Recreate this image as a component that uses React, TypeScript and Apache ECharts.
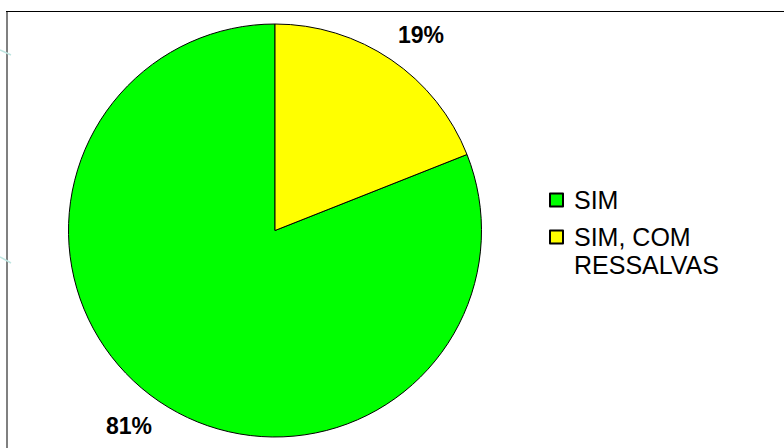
import React, { useEffect, useRef } from "react";
import * as echarts from "echarts";

const categories = ["SIM", "SIM, COM RESSALVAS"];
const values = [81, 19];
const colors = ["#00ff00", "#ffff00"];
const legendLabels = ["SIM", "SIM, COM\nRESSALVAS"];

export default function App() {
  const ref = useRef<HTMLDivElement>(null);
  useEffect(() => {
    const chart = echarts.init(ref.current!, undefined, { renderer: "svg" });
    const yellowShare = values[1] / (values[0] + values[1]);
    const legendText = {
      fontSize: 25,
      lineHeight: 28,
      color: "#000",
      fontFamily: "'Liberation Sans', Arial, sans-serif",
      padding: [0, 0, 0, 6],
    };
    chart.setOption({
      animation: false,
      backgroundColor: "#ffffff",
      graphic: [
        { type: "line", shape: { x1: 7, y1: 11, x2: 7, y2: 448 }, style: { stroke: "#808080", lineWidth: 2 } },
        { type: "line", shape: { x1: 6, y1: 11.5, x2: 784, y2: 11.5 }, style: { stroke: "#000", lineWidth: 1 } },
        { type: "line", shape: { x1: 0, y1: 50, x2: 11, y2: 55 }, style: { stroke: "#bfe6e2", lineWidth: 1.5 } },
        { type: "line", shape: { x1: 0, y1: 257, x2: 11, y2: 263 }, style: { stroke: "#bfe6e2", lineWidth: 1.5 } },
      ],
      legend: [
        {
          data: [categories[0]],
          orient: "vertical",
          left: 549,
          top: 186,
          padding: 0,
          icon: "rect",
          itemWidth: 13,
          itemHeight: 13,
          formatter: () => legendLabels[0],
          textStyle: legendText,
        },
        {
          data: [categories[1]],
          orient: "vertical",
          left: 549,
          top: 195,
          padding: 0,
          icon: "rect",
          itemWidth: 13,
          itemHeight: 13,
          // leading empty line keeps the icon level with the first text line
          formatter: () => "\n" + legendLabels[1],
          textStyle: legendText,
        },
      ],
      series: [
        {
          type: "pie",
          center: [275, 230.5],
          radius: 206.5,
          startAngle: 90 - yellowShare * 360,
          clockwise: true,
          avoidLabelOverlap: false,
          emphasis: { disabled: true },
          itemStyle: { borderColor: "#000", borderWidth: 1 },
          label: {
            show: true,
            position: "outside",
            formatter: "{d}%",
            fontSize: 23,
            fontWeight: "bold",
            color: "#000",
            fontFamily: "'Liberation Sans', Arial, sans-serif",
          },
          labelLine: { show: false, length: 30, length2: -15 },
          data: categories.map((name, i) => ({
            name,
            value: values[i],
            itemStyle: { color: colors[i] },
          })),
        },
      ],
    });
    return () => chart.dispose();
  }, []);
  return (
    <div
      ref={ref}
      style={{ position: "fixed", left: 0, top: 0, width: 784, height: 448 }}
    />
  );
}
